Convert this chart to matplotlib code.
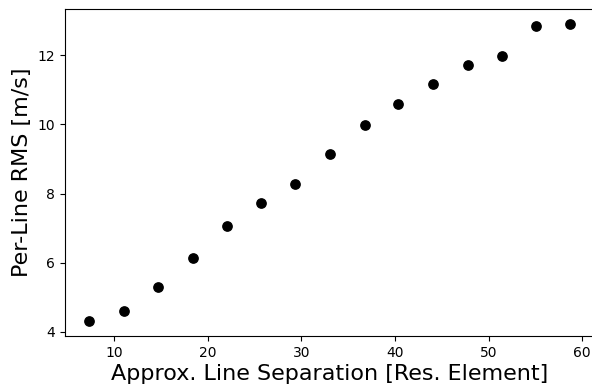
import matplotlib
matplotlib.use("Agg")
import matplotlib.pyplot as plt

separation = [7.33, 11.0, 14.7, 18.35, 22.05, 25.7, 29.35, 33.0, 36.75, 40.35, 44.05, 47.75, 51.4, 55.05, 58.75]
rms = [4.31, 4.61, 5.30, 6.14, 7.06, 7.73, 8.29, 9.15, 9.97, 10.59, 11.17, 11.72, 11.97, 12.85, 12.91]

fig = plt.figure(figsize=(5.92, 3.86), dpi=100)
ax = fig.add_axes([65/592, 1-336/386, (594-65)/592, (336-9)/386])
ax.scatter(separation, rms, s=45, color="black", zorder=3)
ax.set_xlim(4.72, 61.27)
ax.set_xlabel("Approx. Line Separation [Res. Element]", fontsize=16, labelpad=3)
ax.set_ylabel("Per-Line RMS [m/s]", fontsize=16)
ax.tick_params(labelsize=10)
fig.savefig("out.png", dpi=100)
